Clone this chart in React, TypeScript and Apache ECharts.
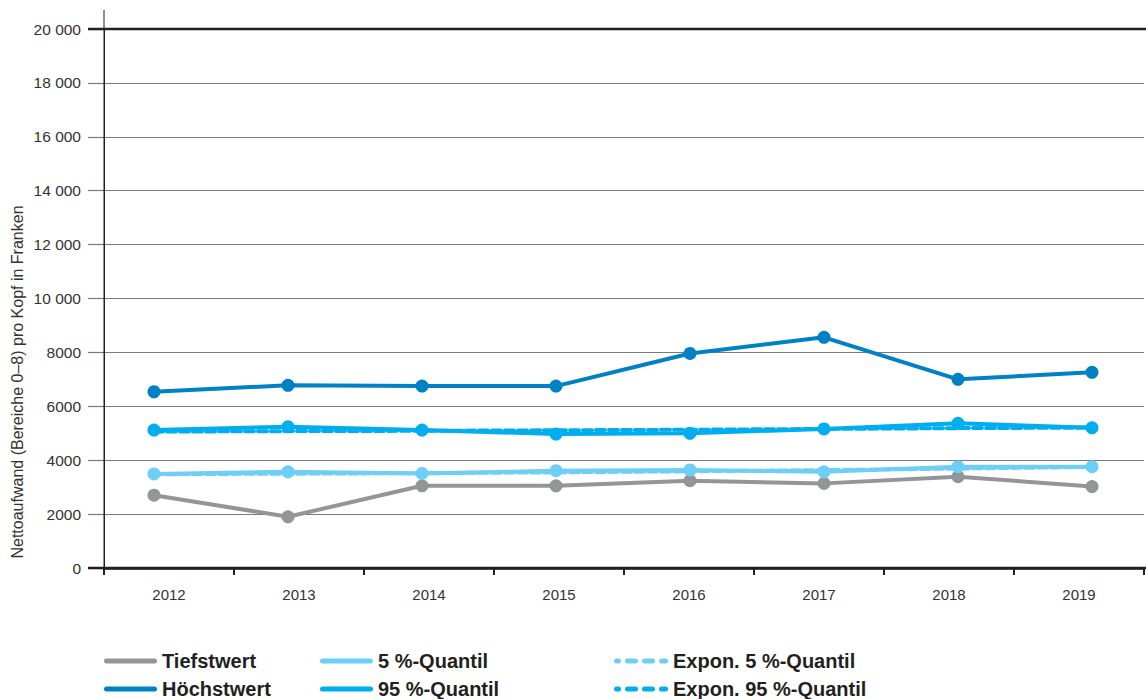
import React, { useEffect, useRef } from "react";
import * as echarts from "echarts";

const years = ["2012", "2013", "2014", "2015", "2016", "2017", "2018", "2019"];
const tiefstwert = [2700, 1900, 3050, 3050, 3240, 3140, 3390, 3020];
const hoechstwert = [6540, 6780, 6750, 6750, 7960, 8560, 7000, 7260];
const quantil5 = [3490, 3570, 3510, 3610, 3640, 3570, 3760, 3760];
const quantil95 = [5120, 5240, 5120, 4970, 5000, 5160, 5370, 5200];
const expon5 = [3480, 3500, 3520, 3550, 3590, 3630, 3690, 3750];
const expon95 = [5060, 5080, 5090, 5110, 5130, 5160, 5190, 5210];

const yAxisTitle = "Nettoaufwand (Bereiche 0–8) pro Kopf in Franken";

const FONT = "'Liberation Sans', Arial, Helvetica, sans-serif";
const INK = "#231F20";
const GRID = "#7a7a7a";

function bar(x0: number, x1: number): string {
  const r = 2.5;
  return `M${x0 + r},0 H${x1 - r} A${r},${r} 0 0 1 ${x1 - r},5 H${x0 + r} A${r},${r} 0 0 1 ${x0 + r},0 Z`;
}
const solidIcon = "path://" + bar(0, 53);
const dashIcon = "path://" + bar(0, 7) + " " + bar(11, 24) + " " + bar(28, 41) + " " + bar(45, 54);

export default function App() {
  const ref = useRef<HTMLDivElement>(null);
  useEffect(() => {
    if (!ref.current) return;
    const chart = echarts.init(ref.current, null, { renderer: "svg" });

    const solid = (name: string, data: number[], color: string) => ({
      name,
      type: "line",
      xAxisIndex: 1,
      yAxisIndex: 1,
      data,
      symbol: "circle",
      symbolSize: 13,
      itemStyle: { color },
      lineStyle: { color, width: 4 },
    });
    const dashed = (name: string, data: number[], color: string) => ({
      name,
      type: "line",
      xAxisIndex: 1,
      yAxisIndex: 1,
      data,
      symbol: "none",
      showSymbol: false,
      itemStyle: { color },
      lineStyle: { color, width: 4, type: [9, 4], cap: "round" },
    });

    const legendText = { fontFamily: FONT, fontSize: 20, fontWeight: "bold", color: INK };
    const leg = (name: string, left: number, top: number, icon: string, w: number) => ({
      data: [{ name, icon }],
      left,
      top,
      itemWidth: w,
      itemHeight: 5,
      itemGap: 0,
      selectedMode: false,
      padding: 0,
      textStyle: legendText,
    });

    const option: any = {
      animation: false,
      backgroundColor: "#ffffff",
      grid: [
        { left: 104, right: 2, top: 29, bottom: 131 },
        { left: 154, right: 54, top: 29, bottom: 131 },
      ],
      xAxis: [
        {
          gridIndex: 0,
          type: "category",
          data: years,
          boundaryGap: true,
          axisLine: { lineStyle: { color: INK, width: 2.5 } },
          axisTick: { show: true, length: 7, lineStyle: { color: INK, width: 2 } },
          axisLabel: { margin: 19, fontSize: 15, color: "#333", fontFamily: FONT },
          splitLine: { show: false },
        },
        { gridIndex: 1, type: "category", data: years, boundaryGap: false, show: false },
      ],
      yAxis: [
        {
          gridIndex: 0,
          type: "value",
          min: 0,
          max: 20000,
          interval: 2000,
          axisLine: { show: true, lineStyle: { color: INK, width: 1 } },
          axisTick: { show: true, length: 16, lineStyle: { color: GRID, width: 1.2 } },
          splitLine: { show: true, lineStyle: { color: GRID, width: 1.2 } },
          axisLabel: {
            margin: 23,
            fontSize: 15.5,
            color: "#333",
            fontFamily: FONT,
            padding: [0, 0, 10, 0],
            formatter: (v: number) =>
              v >= 10000 ? String(v).replace(/\B(?=(\d{3})+(?!\d))/g, " ") : String(v),
          },
        },
        { gridIndex: 1, type: "value", min: 0, max: 20000, interval: 2000, show: false },
      ],
      legend: [
        leg("Tiefstwert", 104, 651, solidIcon, 53),
        leg("Höchstwert", 104, 679, solidIcon, 53),
        leg("5 %-Quantil", 320, 651, solidIcon, 53),
        leg("95 %-Quantil", 320, 679, solidIcon, 53),
        leg("Expon. 5 %-Quantil", 614, 651, dashIcon, 54),
        leg("Expon. 95 %-Quantil", 614, 679, dashIcon, 54),
      ],
      series: [
        solid("Tiefstwert", tiefstwert, "#939598"),
        solid("5 %-Quantil", quantil5, "#6DCFF6"),
        solid("95 %-Quantil", quantil95, "#00AEEF"),
        solid("Höchstwert", hoechstwert, "#0080C5"),
        dashed("Expon. 5 %-Quantil", expon5, "#6DCFF6"),
        dashed("Expon. 95 %-Quantil", expon95, "#00AEEF"),
      ],
      graphic: [
        {
          type: "line",
          z: 100,
          shape: { x1: 88, y1: 29, x2: 1146, y2: 29 },
          style: { stroke: INK, lineWidth: 2.5 },
        },
        {
          type: "line",
          z: 100,
          shape: { x1: 88, y1: 568, x2: 1146, y2: 568 },
          style: { stroke: INK, lineWidth: 2.5 },
        },
        {
          type: "line",
          z: 100,
          shape: { x1: 104, y1: 10, x2: 104, y2: 568 },
          style: { stroke: INK, lineWidth: 1 },
        },
        {
          type: "text",
          z: 100,
          x: 17,
          y: 382,
          rotation: Math.PI / 2,
          style: {
            text: yAxisTitle,
            align: "center",
            verticalAlign: "middle",
            fontFamily: FONT,
            fontSize: 16,
            fill: "#333",
          },
        },
      ],
    };
    chart.setOption(option);
    return () => chart.dispose();
  }, []);
  return (
    <div
      ref={ref}
      style={{ position: "absolute", left: 0, top: 0, width: 1146, height: 699 }}
    />
  );
}
